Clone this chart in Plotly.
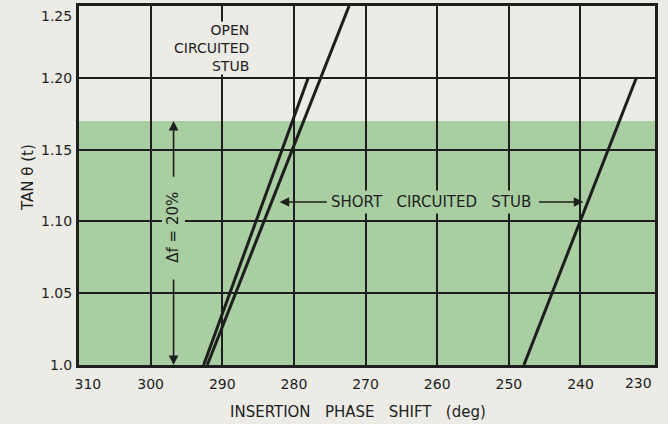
import plotly.graph_objects as go

# Insertion phase shift (deg) vs. tan theta(t) for the stub lines
open_stub_phase = [292.1, 272.3]
open_stub_tan = [1.0, 1.25]
short_stub_a_phase = [292.6, 278.0]
short_stub_a_tan = [1.0, 1.20]
short_stub_b_phase = [247.9, 232.2]
short_stub_b_tan = [1.0, 1.20]

# Shaded 20 % bandwidth region
band_tan = [1.0, 1.17]

x_range = [310, 229.6]
y_range = [1.0, 1.25]
x_ticks = [310, 300, 290, 280, 270, 260, 250, 240]
x_tick_text = ["\u2007\u2007310", "300", "290", "280", "270", "260", "250", "240"]
x_end_tick = [230]
y_ticks = [1.0, 1.05, 1.10, 1.15, 1.20]
y_tick_text = ["1.0", "1.05", "1.10", "1.15", "1.20"]
y_end_tick = [1.25]

PAPER = "#ecebe6"
GREEN = "#a9cea2"
INK = "#1e1e1e"
FONT = "DejaVu Sans"
SP = "\u00a0\u00a0\u00a0"

fig = go.Figure()
series = [(open_stub_phase, open_stub_tan, "x", "y"),
          (short_stub_a_phase, short_stub_a_tan, "x", "y"),
          (short_stub_b_phase, short_stub_b_tan, "x2", "y2")]
for px, ty, xa, ya in series:
    fig.add_trace(go.Scatter(x=px, y=ty, mode="lines", xaxis=xa, yaxis=ya,
                             line=dict(color=INK, width=3),
                             showlegend=False, hoverinfo="skip"))

fig.add_shape(type="rect", xref="paper", yref="y", x0=0, x1=1,
              y0=band_tan[0], y1=band_tan[1], fillcolor=GREEN,
              line=dict(width=0), layer="below")

tick_font = dict(family=FONT, size=14, color=INK)
axis_common = dict(zeroline=False, ticks="outside", automargin=False,
                   tickcolor="rgba(0,0,0,0)", ticklabeloverflow="allow",
                   tickfont=tick_font)
main_axis = dict(showgrid=True, gridcolor=INK, gridwidth=2,
                 showline=True, linecolor=INK, linewidth=3, mirror=True,
                 **axis_common)
# secondary axes only carry the end labels, set just inside the frame
end_axis = dict(showgrid=False, showline=False, **axis_common)

fig.update_layout(
    xaxis=dict(range=x_range, tickvals=x_ticks, ticktext=x_tick_text,
               ticklen=4, **main_axis),
    yaxis=dict(range=y_range, tickvals=y_ticks, ticktext=y_tick_text,
               ticklen=1, **main_axis),
    xaxis2=dict(range=x_range, tickvals=x_end_tick, overlaying="x",
                side="bottom", anchor="y2", ticklen=4, ticklabelstandoff=5,
                ticklabelposition="outside left", **end_axis),
    yaxis2=dict(range=y_range, tickvals=y_end_tick, overlaying="y",
                side="left", anchor="x2", ticklen=1, ticklabelstandoff=3,
                ticklabelposition="outside bottom", **end_axis),
)

label_font = dict(family=FONT, size=15, color=INK)
annotations = [
    dict(x=286.1, y=1.2208, xref="x", yref="y", xanchor="right",
         yanchor="middle", text="OPEN<br>CIRCUITED<br>STUB", align="right",
         showarrow=False, bgcolor=PAPER, borderpad=0,
         font=dict(family=FONT, size=14, color=INK)),
    dict(x=260.9, y=1.1135, xref="x", yref="y",
         text="SHORT" + SP + "CIRCUITED" + SP + "STUB", showarrow=False,
         bgcolor=GREEN, borderpad=2, font=label_font),
    dict(x=282.0, y=1.1135, ax=275.2, ay=1.1135, xref="x", yref="y",
         axref="x", ayref="y", text="", showarrow=True, arrowhead=2,
         arrowsize=1.2, arrowwidth=1.6, arrowcolor=INK),
    dict(x=239.6, y=1.1135, ax=246.0, ay=1.1135, xref="x", yref="y",
         axref="x", ayref="y", text="", showarrow=True, arrowhead=2,
         arrowsize=1.2, arrowwidth=1.6, arrowcolor=INK),
    dict(x=296.8, y=1.096, xref="x", yref="y", text="\u0394f = 20%",
         textangle=-90, showarrow=False, bgcolor=GREEN, borderpad=2,
         font=label_font),
    dict(x=296.8, y=band_tan[1], ax=296.8, ay=1.130, xref="x", yref="y",
         axref="x", ayref="y", text="", showarrow=True, arrowhead=2,
         arrowsize=1.2, arrowwidth=1.6, arrowcolor=INK),
    dict(x=296.8, y=band_tan[0], ax=296.8, ay=1.0606, xref="x", yref="y",
         axref="x", ayref="y", text="", showarrow=True, arrowhead=2,
         arrowsize=1.2, arrowwidth=1.6, arrowcolor=INK),
    dict(x=0.484, y=-0.131, xref="paper", yref="paper", yanchor="middle",
         text="INSERTION" + SP + "PHASE" + SP + "SHIFT" + SP + "(deg)",
         showarrow=False, font=label_font),
    dict(x=-0.0885, y=0.521, xref="paper", yref="paper", xanchor="center",
         text="TAN\u00a0\u03b8\u00a0(t)", textangle=-90, showarrow=False,
         font=label_font),
]

fig.update_layout(width=668, height=424,
                  margin=dict(l=79, r=13, t=6, b=59),
                  paper_bgcolor=PAPER, plot_bgcolor="rgba(0,0,0,0)",
                  annotations=annotations, showlegend=False)

fig.write_html("out.html")
